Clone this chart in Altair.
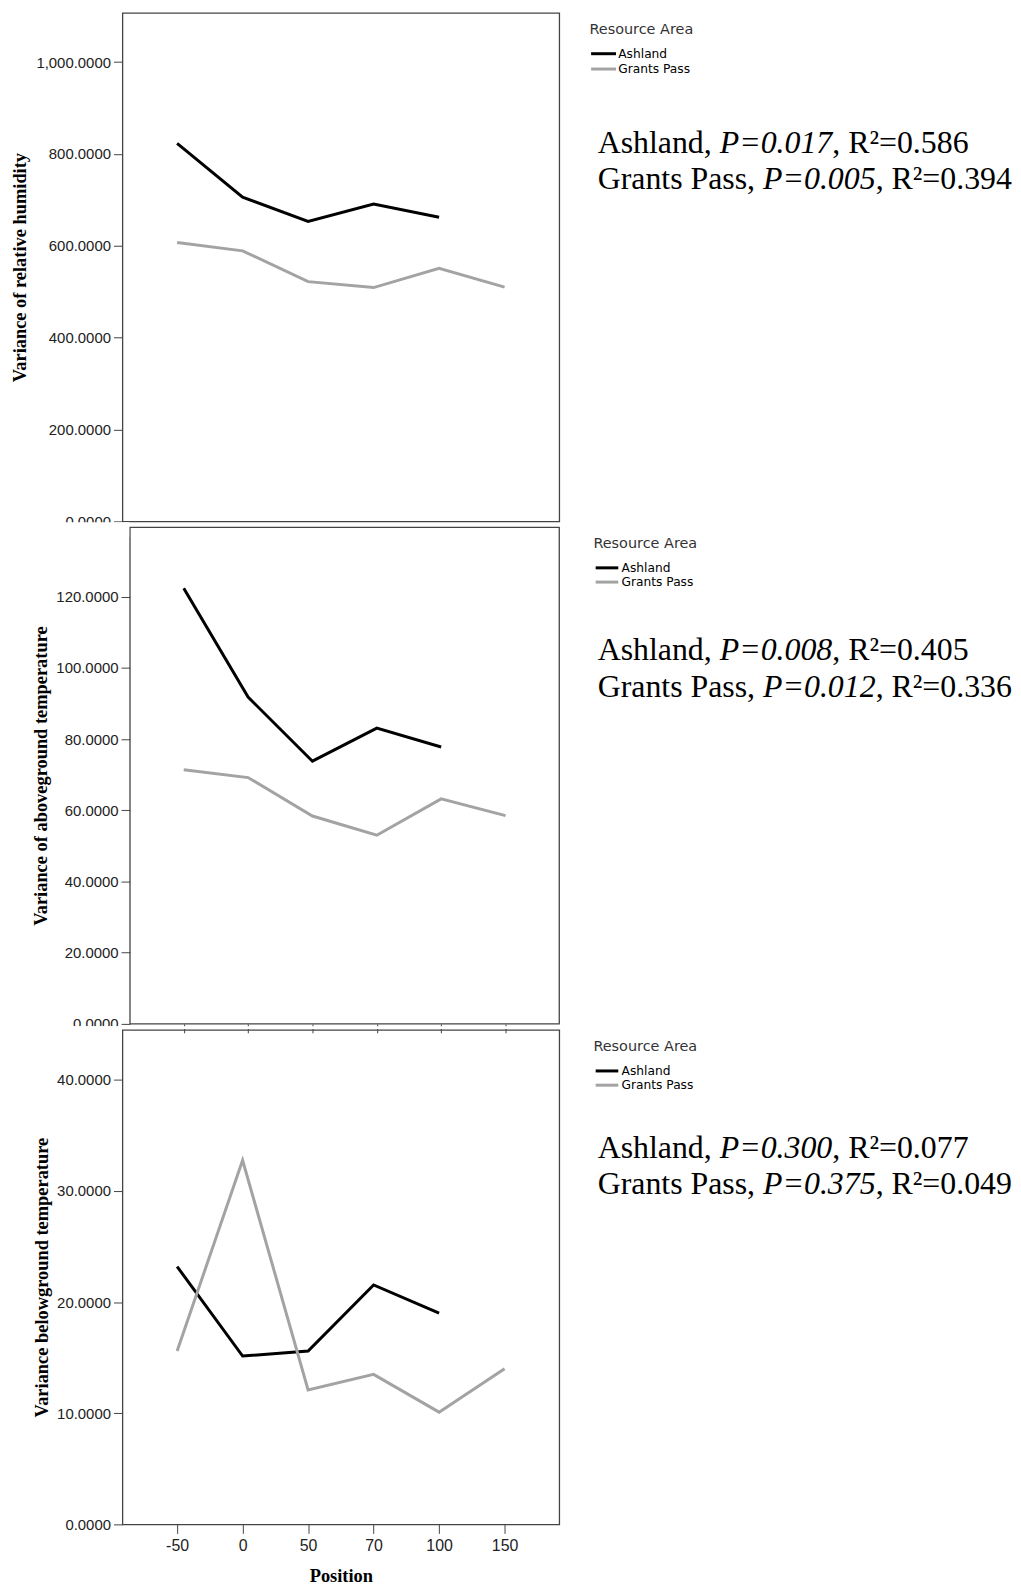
import altair as alt
import pandas as pd

# ---------------- data ----------------
positions = ["-50", "0", "50", "70", "100", "150"]
areas = ["Ashland", "Grants Pass"]
area_colors = ["#000000", "#a3a3a3"]

humidity_ashland = [823, 706, 653, 691, 662]
humidity_grants = [607, 589, 522, 509, 551, 510]
above_ashland = [122.4, 91.8, 73.8, 83.1, 77.8]
above_grants = [71.4, 69.2, 58.4, 53.0, 63.2, 58.5]
below_ashland = [23.2, 15.15, 15.6, 21.55, 19.0]
below_grants = [15.6, 32.76, 12.1, 13.5, 10.1, 14.0]

y_titles = ["Variance of relative humidity",
            "Variance of aboveground temperature",
            "Variance belowground temperature"]
y_ticks = [[0, 200, 400, 600, 800, 1000],
           [0, 20, 40, 60, 80, 100, 120],
           [0, 10, 20, 30, 40]]
y_max = [1107, 139.5, 44.5]
p_values = [["0.017", "0.005"], ["0.008", "0.012"], ["0.300", "0.375"]]
r2_values = [["0.586", "0.394"], ["0.405", "0.336"], ["0.077", "0.049"]]
legend_title = "Resource Area"
x_title = "Position"

series = [(humidity_ashland, humidity_grants),
          (above_ashland, above_grants),
          (below_ashland, below_grants)]

# ---------------- layout ----------------
W = 439
H = [511, 499, 497]
SPACING = 6
BOX_OFF = [0, 7.6, 0]
TITLE_X = [-103.7, -89.7, -81.7]
LEG_X = [469.3, 473.3, 473.3]
LEG_Y = [10, 9.7, 10.3]
SYM_PATH = ["M-0.967,0L3.2,0", "M-0.867,0L2.917,0", "M-0.867,0L2.917,0"]
LABEL_OFF = [14, 13.3, 13.3]
ROWPAD = [1.4, 0.3, 0.3]
TITLEPAD = [9, 9, 9]
ANN_X = 477.6
ANN_Y = [(140.3, 177), (133.3, 170), (129, 165)]
ANN_SIZE = 32
BOX_COLOR = "#444444"

REG = {'A': 722, 's': 389, 'h': 500, 'l': 278, 'a': 444, 'n': 500, 'd': 500,
       ',': 250, ' ': 250, 'G': 722, 'r': 333, 't': 278, 'P': 556, 'R': 667,
       '=': 564, '.': 250, '²': 300}
ITA = {'P': 611, '=': 675, '.': 250}


def text_w(s, table):
    return sum(table.get(c, 500) for c in s) * ANN_SIZE / 1000.0


def make_df(a_vals, g_vals):
    rec = []
    for pos, v in zip(positions, a_vals):
        rec.append({"Position": pos, "Resource Area": areas[0], "Value": v})
    for pos, v in zip(positions, g_vals):
        rec.append({"Position": pos, "Resource Area": areas[1], "Value": v})
    return pd.DataFrame(rec)


dummy = alt.Data(values=[{"k": 0}])


def panel(i):
    df = make_df(*series[i])
    h = H[i]
    off = BOX_OFF[i]
    if i == 0:
        x_axis = None
    elif i == 1:
        x_axis = alt.Axis(labels=False, title=None, ticks=True, domain=False,
                          tickSize=9, tickColor=BOX_COLOR)
    else:
        x_axis = alt.Axis(title=x_title, labelAngle=0, tickSize=9, labelPadding=4,
                          labelFontSize=16, domain=False, titleY=51,
                          titleBaseline="middle")
    if off:
        xscale = alt.Scale(type="point", domain=positions, padding=0.835,
                           range=[off, W])
    else:
        xscale = alt.Scale(type="point", domain=positions, padding=0.835)
    y_axis = alt.Axis(values=y_ticks[i], format=",.4f", title=y_titles[i],
                      titleX=TITLE_X[i], titleY=h / 2, titleAngle=270,
                      titleAlign="center", titleBaseline="middle",
                      tickSize=9, labelPadding=3, domain=False, offset=-off)
    lines = alt.Chart(df).mark_line(strokeWidth=3).encode(
        x=alt.X("Position:O", scale=xscale, axis=x_axis),
        y=alt.Y("Value:Q", scale=alt.Scale(domain=[0, y_max[i]], nice=False, zero=True),
                axis=y_axis),
        color=alt.Color("Resource Area:N",
                        scale=alt.Scale(domain=areas, range=area_colors),
                        legend=alt.Legend(
                            orient="none", legendX=LEG_X[i], legendY=LEG_Y[i],
                            title=legend_title, titleFont="DejaVu Sans",
                            titleFontSize=14.5, titleFontWeight="normal",
                            titleColor="#333333", titlePadding=TITLEPAD[i],
                            labelFont="DejaVu Sans", labelFontSize=12.3,
                            labelColor="#000000", symbolType=SYM_PATH[i],
                            symbolStrokeWidth=3, symbolSize=144,
                            labelOffset=LABEL_OFF[i], rowPadding=ROWPAD[i],
                            padding=0)),
    )
    layers = []
    if off:
        box = alt.Chart(dummy).mark_rect(filled=False, color=BOX_COLOR, strokeWidth=1.3).encode(
            x=alt.value(off), x2=alt.value(W), y=alt.value(0), y2=alt.value(h))
        layers.append(box)
    layers.append(lines)
    # white covers emulating the overlapping source images
    if i == 1:
        layers.append(alt.Chart(dummy).mark_rect(color="white").encode(
            x=alt.value(-112), x2=alt.value(off - 0.8), y=alt.value(-5.2), y2=alt.value(10)))
    if i == 2:
        layers.append(alt.Chart(dummy).mark_rect(color="white").encode(
            x=alt.value(-112), x2=alt.value(W + 2), y=alt.value(-3.5), y2=alt.value(-0.8)))
        layers.append(alt.Chart(dummy).mark_rect(color="white").encode(
            x=alt.value(-112), x2=alt.value(-0.8), y=alt.value(-3.5), y2=alt.value(10)))
    # annotation text
    for j, area in enumerate(areas):
        yb = ANN_Y[i][j]
        s1 = area + ", "
        s2 = "P=" + p_values[i][j]
        s3 = ", R²=" + r2_values[i][j]
        x1 = ANN_X
        x2 = x1 + text_w(s1, REG)
        x3 = x2 + text_w(s2, ITA)
        for s, xx, style in [(s1, x1, "normal"), (s2, x2, "italic"), (s3, x3, "normal")]:
            layers.append(alt.Chart(dummy).mark_text(
                font="Liberation Serif", fontSize=ANN_SIZE, fontStyle=style,
                align="left", baseline="alphabetic", color="#000000").encode(
                x=alt.value(xx), y=alt.value(yb), text=alt.value(s)))
    props = dict(width=W, height=h)
    if off:
        props["view"] = alt.ViewBackground(stroke="transparent")
    return alt.layer(*layers).properties(**props)


chart = alt.vconcat(panel(0), panel(1), panel(2), spacing=SPACING, bounds="flush").resolve_scale(
    x="independent", y="independent", color="independent"
).resolve_legend(color="independent").resolve_axis(
    x="independent", y="independent"
).configure_view(
    stroke=BOX_COLOR, strokeWidth=1.3
).configure_axis(
    labelFont="Liberation Sans", labelFontSize=15, labelColor="#222222",
    tickColor=BOX_COLOR, tickWidth=1, grid=False,
    titleFont="Liberation Serif", titleFontWeight="bold", titleFontSize=18.5,
    titleColor="#000000"
).properties(
    padding={"left": 1, "top": 0, "right": 0, "bottom": 0},
    background="white"
)

chart.save("out.html", embed_options={"renderer": "svg", "actions": False})
